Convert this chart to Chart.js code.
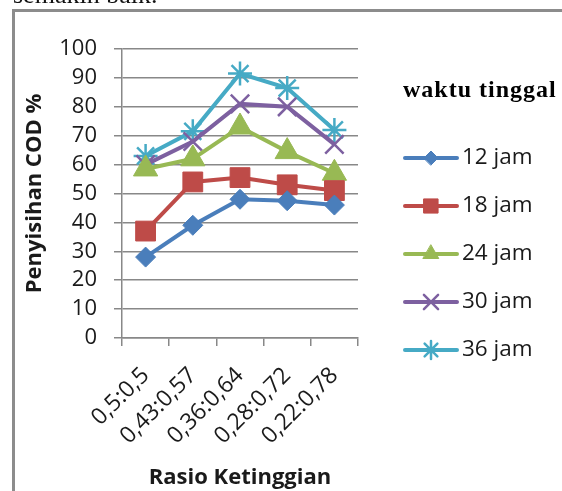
<!DOCTYPE html>
<html>
<head>
<meta charset="utf-8">
<script src="https://cdn.jsdelivr.net/npm/chart.js@4/dist/chart.umd.min.js"></script>
<style>
  html, body { margin: 0; padding: 0; background: #fff; overflow: hidden; }
  #wrap { position: relative; width: 562px; height: 491px; }
</style>
</head>
<body>
<div id="wrap"><canvas id="cod" width="562" height="491"></canvas></div>
<script>
// Height ratio categories and COD removal (%) per residence time
const categories = ['0,5:0,5', '0,43:0,57', '0,36:0,64', '0,28:0,72', '0,22:0,78'];
const jam12 = [28, 39, 48, 47.5, 46];
const jam18 = [37, 54, 55.5, 53, 51];
const jam24 = [58.5, 62, 73, 64.5, 57];
const jam30 = [60, 68, 81, 80, 67];
const jam36 = [63, 71.5, 91.5, 86.5, 72];
const seriesNames = ['12 jam', '18 jam', '24 jam', '30 jam', '36 jam'];
const yTicks = [0, 10, 20, 30, 40, 50, 60, 70, 80, 90, 100];

const sansFont = "'Open Sans', 'DejaVu Sans', sans-serif";
const serifFont = "'Liberation Serif', 'DejaVu Serif', serif";

function series(label, data, color, style, radius, legendRadius, bw) {
  return {
    label, data,
    borderColor: color,
    backgroundColor: color,
    pointBackgroundColor: color,
    pointBorderColor: color,
    pointStyle: style,
    pointRadius: radius,
    pointHoverRadius: radius,
    pointBorderWidth: bw,
    borderWidth: 4,
    tension: 0,
    legendRadius
  };
}

const datasets = [
  series(seriesNames[0], jam12, '#4a7ebb', 'rectRot', 10, 7, 1),
  series(seriesNames[1], jam18, '#be4b48', 'rect', 14, 10, 1),
  series(seriesNames[2], jam24, '#98b954', 'triangle', 14, 9, 1),
  series(seriesNames[3], jam30, '#7d60a0', 'crossRot', 13, 10, 2.5),
  series(seriesNames[4], jam36, '#46aac5', 'star', 12, 9, 2.5)
];

// Page frame, caption fragment and the right-hand legend
const decor = {
  id: 'decor',
  beforeDraw(chart) {
    const ctx = chart.ctx;
    ctx.save();
    ctx.fillStyle = '#fff';
    ctx.fillRect(0, 0, chart.width, chart.height);
    ctx.fillStyle = '#111';
    ctx.font = `26px ${serifFont}`;
    ctx.textBaseline = 'alphabetic';
    ctx.textAlign = 'left';
    ctx.fillText('semakin baik.', 13, 3);
    ctx.strokeStyle = '#8c8c8c';
    ctx.lineWidth = 3;
    ctx.beginPath();
    ctx.moveTo(13.5, chart.height + 2);
    ctx.lineTo(13.5, 10.5);
    ctx.lineTo(chart.width + 2, 10.5);
    ctx.stroke();
    ctx.restore();
  },
  afterDraw(chart) {
    const ctx = chart.ctx;
    ctx.save();
    ctx.fillStyle = '#000';
    ctx.font = `bold 24px ${serifFont}`;
    ctx.letterSpacing = '1px';
    ctx.textBaseline = 'middle';
    ctx.textAlign = 'left';
    ctx.fillText('waktu tinggal', 403, 91);
    ctx.letterSpacing = '0px';
    const rowY = [158, 206, 254, 302, 350];
    chart.data.datasets.forEach((ds, i) => {
      const y = rowY[i];
      ctx.strokeStyle = ds.borderColor;
      ctx.lineWidth = 4;
      ctx.lineCap = 'round';
      ctx.beginPath();
      ctx.moveTo(405, y);
      ctx.lineTo(457, y);
      ctx.stroke();
      ctx.fillStyle = ds.pointBackgroundColor;
      ctx.strokeStyle = ds.pointBorderColor;
      ctx.lineWidth = ds.pointBorderWidth;
      Chart.helpers.drawPoint(ctx, {
        pointStyle: ds.pointStyle,
        radius: ds.legendRadius,
        borderWidth: ds.pointBorderWidth,
        rotation: 0
      }, 431, y);
      ctx.fillStyle = '#1a1a1a';
      ctx.font = `22.5px ${sansFont}`;
      ctx.fillText(ds.label, 462, y);
    });
    ctx.restore();
  }
};

new Chart(document.getElementById('cod'), {
  type: 'line',
  data: { labels: categories, datasets },
  plugins: [decor],
  options: {
    responsive: false,
    animation: false,
    devicePixelRatio: 1,
    layout: { padding: { left: 0, top: 49, right: 204, bottom: 0 } },
    plugins: {
      legend: { display: false },
      tooltip: { enabled: false }
    },
    scales: {
      x: {
        offset: true,
        grid: {
          display: true,
          drawOnChartArea: false,
          offset: true,
          tickLength: 8,
          color: '#888',
          lineWidth: 1.5
        },
        border: { color: '#888', width: 1.5 },
        ticks: {
          minRotation: 45,
          maxRotation: 45,
          autoSkip: false,
          padding: 16,
          color: '#1a1a1a',
          font: { family: sansFont, size: 23 }
        },
        title: {
          display: true,
          text: 'Rasio Ketinggian',
          color: '#1a1a1a',
          font: { family: sansFont, size: 22, weight: 'bold' },
          padding: { top: 0, bottom: 0 }
        },
        afterFit(scale) { scale.height = 153; }
      },
      y: {
        min: 0,
        max: 100,
        afterBuildTicks(scale) { scale.ticks = yTicks.map(v => ({ value: v })); },
        grid: {
          color: '#888',
          lineWidth: 1.5,
          tickLength: 8
        },
        border: { color: '#888', width: 1.5 },
        ticks: {
          autoSkip: false,
          padding: 17,
          color: '#1a1a1a',
          font: { family: sansFont, size: 22, lineHeight: 1 }
        },
        title: {
          display: true,
          text: 'Penyisihan COD %',
          color: '#1a1a1a',
          font: { family: sansFont, size: 22, weight: 'bold' },
          padding: { top: 22, bottom: 0 }
        },
        afterFit(scale) { scale.width = 122; }
      }
    }
  }
});
</script>
</body>
</html>
